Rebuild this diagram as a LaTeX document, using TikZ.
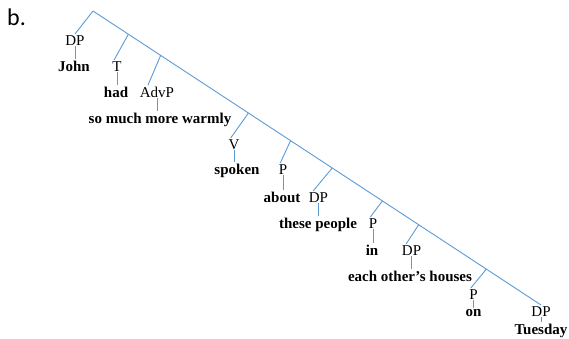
\documentclass[tikz,border=0pt]{standalone}
\usepackage{fontspec}
\setmainfont{Liberation Serif}
\newfontfamily\exfont{Carlito}
\usepackage{tikz}
\usetikzlibrary{calc}
\definecolor{branchblue}{HTML}{5B9BD5}

\begin{document}
\begin{tikzpicture}[x=1pt, y=-1pt,
    every node/.style={anchor=base, inner sep=1pt, font=\fontsize{15}{18}\selectfont},
    word/.style={font=\fontsize{15}{18}\selectfont\bfseries},
    branch/.style={draw=branchblue, line width=0.9pt}
]
\useasboundingbox (0,0) rectangle (569,338);
\node[anchor=base west, inner sep=0pt, font=\exfont\fontsize{24}{28}\selectfont] (ex) at (7,25) {b.};
\coordinate (top) at (93,11);

\node (dpA) at (75,45) {DP};
\node[word] (john) at (74,71) {John};
\node (t) at (117,71) {T};
\node[word] (had) at (116,97) {had};
\node (advp) at (157,97) {AdvP};
\node[word] (adv) at (160,123) {so much more warmly};
\node (v) at (234,149) {V};
\node[word] (spoken) at (237,174) {spoken};
\node (pA) at (283,174) {P};
\node[word] (about) at (282,202) {about};
\node (dpB) at (318.5,202) {DP};
\node[word] (these) at (318,228) {these people};
\node (pB) at (373,228) {P};
\node[word] (in) at (372,255) {in};
\node (dpC) at (411.5,255) {DP};
\node[word] (each) at (410,281) {each other’s houses};
\node (pC) at (473.5,299) {P};
\node[word] (on) at (473.5,316) {on};
\node (dpD) at (541,316) {DP};
\node[word] (tuesday) at (541,334) {Tuesday};

\draw[branch] (top) -- (dpD.north);
\draw[branch] (top) -- (dpA.north);
\foreach \t/\n in {0.079/t, 0.151/advp, 0.347/v, 0.441/pA, 0.534/dpB, 0.646/pB, 0.727/dpC, 0.878/pC}
    \draw[branch] ($(top)!\t!(dpD.north)$) -- ($(\n.north)!0.5!(\n.north west)$);
\foreach \c/\w in {dpA/john, t/had, advp/adv, v/spoken, pA/about, dpB/these, pB/in, dpC/each, pC/on, dpD/tuesday}
    \draw[branch] (\c.south) -- (\c.south |- \w.north);
\end{tikzpicture}
\end{document}
